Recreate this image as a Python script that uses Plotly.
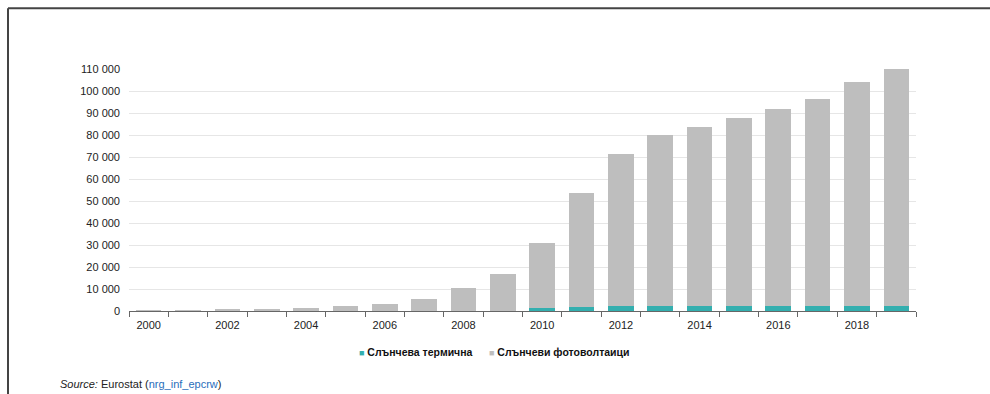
import plotly.graph_objects as go

# Installed capacity, solar, by year
years = list(range(2000, 2020))
solar_thermal = [0, 0, 0, 0, 0, 0, 0, 0, 0, 200, 1200, 1600, 2200, 2500, 2500, 2500, 2500, 2500, 2500, 2500]
solar_pv = [100, 200, 500, 900, 1500, 2500, 3200, 5300, 10500, 16800, 29600, 51900, 69100, 77500, 81200, 85200, 89100, 93800, 101500, 107500]

thermal_name = "Слънчева термична"
pv_name = "Слънчеви фотоволтаици"
thermal_color = "#33afaf"
pv_color = "#bebebe"

y_ticks = list(range(0, 110001, 10000))
x_label_years = [y for y in years if y % 2 == 0]
x_boundaries = [y - 0.5 for y in years] + [years[-1] + 0.5]

W, H = 990, 394
L, R, T, B = 129, 74, 69, 82.5
pw, ph = W - L - R, H - T - B


def px_x(px):
    return (px - L) / pw


def px_y(py):
    return (H - B - py) / ph


fig = go.Figure()
fig.add_trace(go.Bar(x=years, y=solar_thermal, name=thermal_name,
                     marker=dict(color=thermal_color, line=dict(width=0))))
fig.add_trace(go.Bar(x=years, y=solar_pv, name=pv_name,
                     marker=dict(color=pv_color, line=dict(width=0))))


def legend_entry(name, color, x_px):
    return dict(
        xref="paper", yref="paper", x=px_x(x_px), y=px_y(353),
        xanchor="left", yanchor="middle", showarrow=False,
        text=f"<span style='color:{color};font-size:9px'>■</span> <b>{name}</b>",
        font=dict(size=10.5, color="#111111"),
    )


fig.update_layout(
    width=W, height=H,
    margin=dict(l=L, r=R, t=T, b=B, pad=0),
    barmode="stack",
    bargap=0.35,
    showlegend=False,
    plot_bgcolor="white",
    paper_bgcolor="white",
    separators=". ",
    font=dict(family="Liberation Sans, Arial, sans-serif", size=11, color="#333333"),
    xaxis=dict(
        range=[years[0] - 0.5, years[-1] + 0.5],
        tickvals=x_label_years,
        ticktext=[str(y) for y in x_label_years],
        ticks="", showgrid=False, ticklabelstandoff=4,
        showline=True, linecolor="#666666", linewidth=1,
        minor=dict(tickvals=x_boundaries, ticks="outside", ticklen=5,
                   tickcolor="#666666", showgrid=False),
        tickfont=dict(size=11, color="#222222"),
        zeroline=False,
    ),
    yaxis=dict(
        range=[0, 110000],
        tickvals=y_ticks,
        tickformat=",d",
        showgrid=True, gridcolor="#e6e6e6", gridwidth=1,
        zeroline=False, showline=False,
        ticks="", ticklabelstandoff=8,
        tickfont=dict(size=11, color="#222222"),
    ),
    annotations=[
        legend_entry(thermal_name, thermal_color, 357),
        legend_entry(pv_name, pv_color, 487),
        dict(
            xref="paper", yref="paper", x=px_x(58), y=px_y(385),
            xanchor="left", yanchor="middle", showarrow=False,
            text="<i>Source:</i> Eurostat (<span style='color:#2a6ebb'>nrg_inf_epcrw</span>)",
            font=dict(size=11, color="#222222"),
        ),
    ],
    shapes=[
        dict(type="line", xref="paper", yref="paper",
             x0=px_x(8), x1=px_x(8), y0=px_y(8), y1=px_y(400),
             line=dict(color="#444444", width=2)),
        dict(type="line", xref="paper", yref="paper",
             x0=px_x(8), x1=px_x(1000), y0=px_y(8), y1=px_y(8),
             line=dict(color="#444444", width=2)),
    ],
)

fig.write_html("out.html")
